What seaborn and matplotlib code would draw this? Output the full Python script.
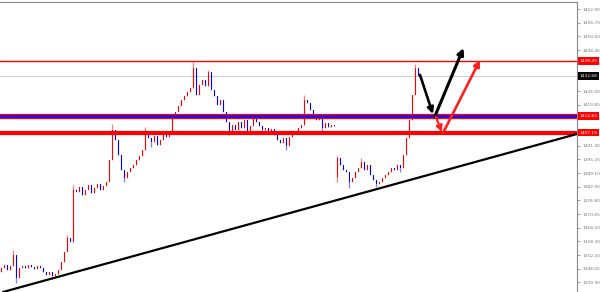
import numpy as np
import matplotlib
matplotlib.use("Agg")
import matplotlib.pyplot as plt
import matplotlib.transforms as mtransforms
import seaborn as sns

# ---------------- data ----------------
first_open = 1344.6
close = [
    1346.4, 1347.8, 1345.5, 1347.3, 1352.3, 1341.9, 1346.4, 1347.3, 1346.4, 1347.8,
    1346.9, 1346.0, 1347.3, 1346.4, 1344.6, 1343.3, 1344.6, 1342.8, 1343.7, 1345.5,
    1349.1, 1353.6, 1359.9, 1358.1, 1381.5, 1380.6, 1382.9, 1379.3, 1381.5, 1383.8,
    1380.2, 1382.4, 1384.2, 1381.5, 1383.3, 1385.1, 1395.0, 1408.5, 1404.0, 1397.3,
    1390.5, 1386.9, 1389.6, 1391.4, 1392.8, 1395.0, 1396.8, 1399.5, 1407.6, 1404.9,
    1403.1, 1405.8, 1401.8, 1404.0, 1406.3, 1405.4, 1407.2, 1413.9, 1416.6, 1419.3,
    1422.0, 1423.8, 1425.6, 1427.4, 1436.4, 1424.3, 1428.8, 1431.0, 1428.3, 1434.6,
    1426.5, 1423.8, 1419.8, 1422.0, 1416.6, 1412.1, 1407.6, 1410.8, 1408.5, 1412.1,
    1409.4, 1413.0, 1407.6, 1410.3, 1413.9, 1412.1, 1410.3, 1408.5, 1409.4, 1407.2,
    1409.0, 1406.3, 1404.0, 1402.7, 1404.9, 1401.3, 1405.4, 1407.2, 1408.1, 1409.4,
    1410.8, 1422.0, 1420.7, 1417.5, 1414.4, 1413.0, 1414.8, 1409.4, 1411.7, 1409.9,
    1410.8, 1410.3, 1395.9, 1392.8, 1390.5, 1389.6, 1385.1, 1386.9, 1389.6, 1391.4,
    1394.1, 1390.5, 1392.8, 1388.3, 1386.0, 1384.2, 1385.1, 1386.9, 1388.3, 1389.6,
    1391.4, 1390.5, 1392.8, 1391.4, 1397.3, 1404.9, 1413.0, 1424.3, 1436.4, 1432.8,
]
gap_index = 112
gap_open = 1387.4
high_spikes = {4: 1354.5, 22: 1361.3, 24: 1383.8, 37: 1411.2, 48: 1409.9, 64: 1439.1,
               69: 1435.5, 84: 1414.8, 101: 1424.3, 112: 1396.8, 120: 1395.9, 138: 1438.2}
low_spikes = {5: 1339.7, 41: 1385.1, 50: 1400.9, 76: 1406.3, 95: 1399.5, 107: 1408.1,
              112: 1385.1, 116: 1382.4, 125: 1382.9, 133: 1389.6}

level_resistance = 1439.55
level_bid = 1432.8
level_blue = 1414.8
level_support = 1407.2
level_labels = ["1439.43", "1432.68", "1414.83", "1407.19"]

tick_values = [1462.90, 1456.75, 1450.60, 1444.45, 1438.30, 1432.15, 1426.00, 1419.85,
               1413.70, 1407.55, 1401.40, 1395.25, 1389.10, 1382.95, 1376.80, 1370.65,
               1364.50, 1358.35, 1352.20, 1346.05, 1339.90]
# labels hidden behind the price boxes are left blank
tick_labels = ["1462.90", "1456.75", "1450.60", "1444.45", "1438.30", "", "1426.00",
               "1419.85", "1413.70", "", "1401.40", "1395.25", "1389.10", "1382.95",
               "1376.80", "1370.65", "1364.50", "1358.35", "1352.20", "1346.05", "1339.90"]

trend_x = [0.5, 191.8]
trend_y = [1335.6, 1406.7]

black_down = [(139.5, 1433.3), (143.8, 1415.7)]
black_up = [(144.5, 1414.8), (154.0, 1445.4)]
red_down = [(144.8, 1414.4), (146.8, 1407.6)]
red_up = [(147.2, 1407.2), (159.5, 1440.0)]

# ---------------- build candles ----------------
n = len(close)
opens = [first_open] + close[:-1]
opens[gap_index] = gap_open
o = np.array(opens)
c = np.array(close)
hi = np.maximum(o, c)
lo = np.minimum(o, c)
for k, v in high_spikes.items():
    hi[k] = v
for k, v in low_spikes.items():
    lo[k] = v
x = np.arange(n)
bull = c >= o
colors = np.where(bull, "#ff0000", "#0000ff")

# ---------------- figure ----------------
sns.set_style("white")
fig = plt.figure(figsize=(6.0, 2.92), dpi=100)
ax = fig.add_axes([0, 0, 577 / 600, 290 / 292])

ax.vlines(x, lo, hi, colors=colors, linewidth=0.9, alpha=0.5, zorder=2)
ax.bar(x, np.maximum(np.abs(c - o), 0.35), bottom=np.minimum(o, c), width=0.62,
       color=colors, linewidth=0, zorder=2.5)

ax.axhline(level_resistance, color="#ff0000", lw=1.0, zorder=3)
ax.axhline(level_bid, color="#cfcfcf", lw=0.8, zorder=1.5)
ax.axhline(level_blue, color="#ff0000", lw=3.8, zorder=3)
ax.axhline(level_blue, color="#1010ff", lw=1.9, zorder=3.1)
ax.axhline(level_support, color="#ff0000", lw=3.0, zorder=3)

sns.lineplot(x=trend_x, y=trend_y, color="black", lw=1.6, ax=ax, zorder=4)

for seg, col, lw in [(black_down, "black", 1.9), (black_up, "black", 2.2),
                     (red_down, "#ff2020", 1.6), (red_up, "#ff2020", 1.9)]:
    ax.annotate("", xy=seg[1], xytext=seg[0],
                arrowprops=dict(arrowstyle="-|>", color=col, lw=lw,
                                mutation_scale=9, shrinkA=0, shrinkB=0),
                zorder=5)

ax.set_xlim(-0.5, 577 / 3 - 0.5)
ax.set_ylim(1335.6, 1466.1)

ax.yaxis.tick_right()
ax.set_yticks(tick_values)
ax.set_yticklabels(tick_labels)
ax.set_xticks([])
ax.tick_params(axis="y", direction="out", length=2.5, width=0.5, color="#777777",
               labelsize=3.2, labelcolor="#777777", pad=1.5)
for s in ["left", "bottom"]:
    ax.spines[s].set_visible(False)
for s in ["top", "right"]:
    ax.spines[s].set_color("#888888")
    ax.spines[s].set_linewidth(0.8)

trans = mtransforms.blended_transform_factory(ax.transAxes, ax.transData)
for val, lab, fc in zip([level_resistance, level_bid, level_blue, level_support],
                        level_labels, ["#ff0000", "#000000", "#ff0000", "#ff0000"]):
    ax.text(1.004, val, lab, transform=trans, fontsize=3.2, color="white",
            ha="left", va="center", zorder=10, clip_on=False,
            bbox=dict(boxstyle="square,pad=0.35", fc=fc, ec="none"))

fig.savefig("out.png", dpi=100)
